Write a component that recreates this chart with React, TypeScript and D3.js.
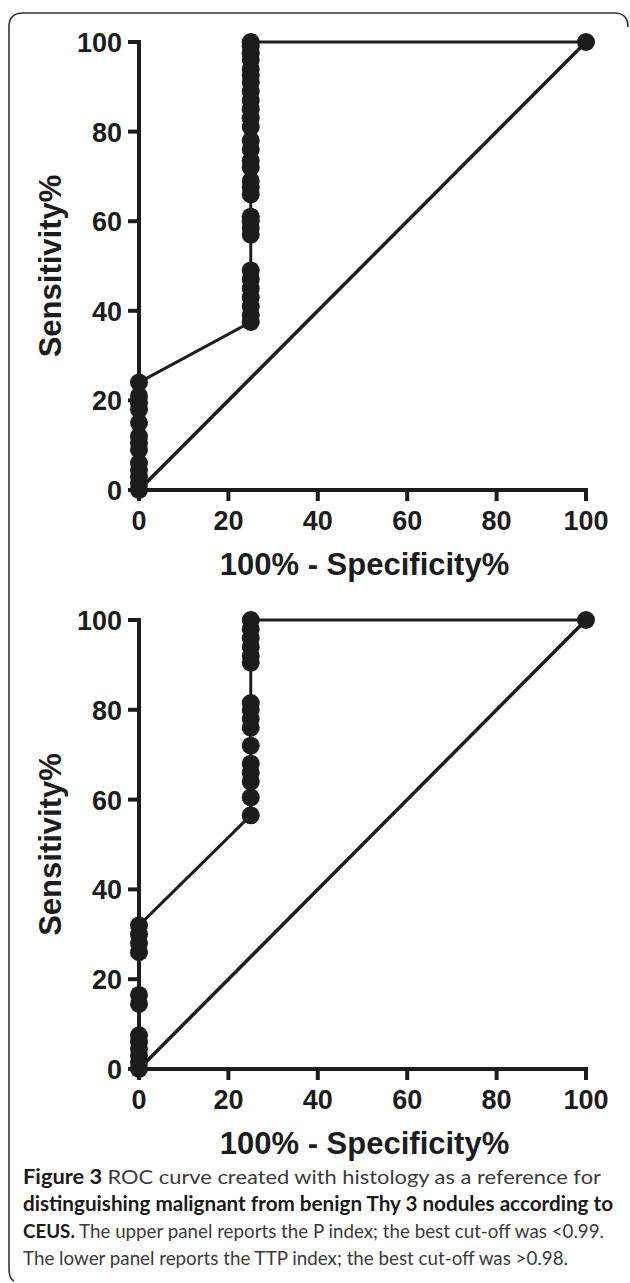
import React from "react";
import * as d3 from "d3";

// ---- data ----
const xTicks = [0, 20, 40, 60, 80, 100];
const yTicks = [0, 20, 40, 60, 80, 100];

// Upper panel (P index)
const topX0 = [0, 1.5, 3, 4.5, 6, 9, 10.5, 12, 15, 18, 19.5, 21, 24];
const topX25 = [37.5, 39, 41, 43, 45, 47, 49, 57, 58.5, 60, 61, 66, 67.5, 69, 72, 73.5, 76, 78, 81, 83, 85, 87, 89, 91, 92.5, 94, 96, 97.5, 99, 100];
const topX100 = [100];

// Lower panel (TTP index)
const botX0 = [0, 1.5, 3, 4.5, 6, 7.5, 14.5, 16.5, 26, 28, 30, 32];
const botX25 = [56.5, 60.5, 64, 66, 68, 72, 76, 78, 80, 81.5, 90.5, 92, 94, 96, 98, 100];
const botX100 = [100];

const captionLines = [
  { bold: "Figure 3 ", rest: "ROC curve created with histology as a reference for", width: 578, size: 20 },
  { bold: "distinguishing malignant from benign Thy 3 nodules according to", rest: "", width: 590, size: 20 },
  { bold: "CEUS.", rest: " The upper panel reports the P index; the best cut-off was <0.99.", width: 581, size: 19 },
  { bold: "", rest: "The lower panel reports the TTP index; the best cut-off was >0.98.", width: 545, size: 19.5 },
];

type Pt = { x: number; y: number };

function buildPoints(x0: number[], x25: number[], x100: number[]): Pt[] {
  return [
    ...x0.map((y) => ({ x: 0, y })),
    ...x25.map((y) => ({ x: 25, y })),
    ...x100.map((y) => ({ x: 100, y })),
  ];
}

const INK = "#1c1c1c";

function Panel({ top, bottom, pts }: { top: number; bottom: number; pts: Pt[] }) {
  const x = d3.scaleLinear().domain([0, 100]).range([139, 586]);
  const y = d3.scaleLinear().domain([0, 100]).range([bottom, top]);
  const line = d3
    .line<Pt>()
    .x((d) => x(d.x))
    .y((d) => y(d.y));
  const sorted = [...pts].sort((a, b) => a.x - b.x || a.y - b.y);
  const diag = line([
    { x: 0, y: 0 },
    { x: 100, y: 100 },
  ]) as string;
  return (
    <g>
      {/* axes */}
      <line x1={x(0)} x2={x(0)} y1={y(0) + 2} y2={y(100) - 2} stroke={INK} strokeWidth={4} />
      <line x1={x(0) - 2} x2={x(100) + 2} y1={y(0)} y2={y(0)} stroke={INK} strokeWidth={4} />
      {yTicks.map((t) => (
        <g key={"y" + t}>
          <line x1={x(0) - 11} x2={x(0)} y1={y(t)} y2={y(t)} stroke={INK} strokeWidth={4} />
          <text
            x={x(0) - 17}
            y={y(t) + 10}
            textAnchor="end"
            fontFamily="'Liberation Sans', Arial, sans-serif"
            fontWeight="bold"
            fontSize={27}
            fill={INK}
          >
            {t}
          </text>
        </g>
      ))}
      {xTicks.map((t) => (
        <g key={"x" + t}>
          <line x1={x(t)} x2={x(t)} y1={y(0)} y2={y(0) + 11} stroke={INK} strokeWidth={4} />
          <text
            x={x(t)}
            y={y(0) + 40}
            textAnchor="middle"
            fontFamily="'Liberation Sans', Arial, sans-serif"
            fontWeight="bold"
            fontSize={27}
            fill={INK}
          >
            {t}
          </text>
        </g>
      ))}
      <text
        x={(x(0) + x(100)) / 2 + 2}
        y={y(0) + 85}
        textAnchor="middle"
        fontFamily="'Liberation Sans', Arial, sans-serif"
        fontWeight="bold"
        fontSize={31}
        fill={INK}
      >
        100% - Specificity%
      </text>
      <text
        transform={`translate(61,${(y(0) + y(100)) / 2}) rotate(-90)`}
        textAnchor="middle"
        fontFamily="'Liberation Sans', Arial, sans-serif"
        fontWeight="bold"
        fontSize={31}
        fill={INK}
      >
        Sensitivity%
      </text>
      {/* reference diagonal */}
      <path d={diag} fill="none" stroke={INK} strokeWidth={3.5} />
      {/* ROC curve */}
      <path d={line(sorted) as string} fill="none" stroke={INK} strokeWidth={3} />
      {sorted.map((p, i) => (
        <circle key={i} cx={x(p.x)} cy={y(p.y)} r={9} fill={INK} />
      ))}
    </g>
  );
}

export default function App() {
  const capTops = [1184, 1211, 1238, 1265];
  return (
    <svg
      width={630}
      height={1283}
      style={{ position: "absolute", left: 0, top: 0, background: "#fff" }}
    >
      <rect x={0} y={0} width={630} height={1283} fill="#fff" />
      <path
        d="M 628 27 Q 628 13 614 13 L 23 13 Q 9 13 9 27 L 9 1268 Q 9 1279 14 1281"
        fill="none"
        stroke="#333"
        strokeWidth={1.6}
      />
      <Panel top={42} bottom={490} pts={buildPoints(topX0, topX25, topX100)} />
      <Panel top={620} bottom={1069} pts={buildPoints(botX0, botX25, botX100)} />
      {captionLines.map((l, i) => (
        <text
          key={i}
          x={23}
          y={capTops[i]}
          fontFamily="Lato, 'Open Sans', sans-serif"
          fontSize={l.size}
          fill="#3a3a3a"
          textLength={l.width}
          lengthAdjust="spacingAndGlyphs"
        >
          {l.bold && (
            <tspan fontWeight="bold" fill="#1a1a1a">
              {l.bold}
            </tspan>
          )}
          {l.rest && <tspan>{l.rest}</tspan>}
        </text>
      ))}
    </svg>
  );
}
